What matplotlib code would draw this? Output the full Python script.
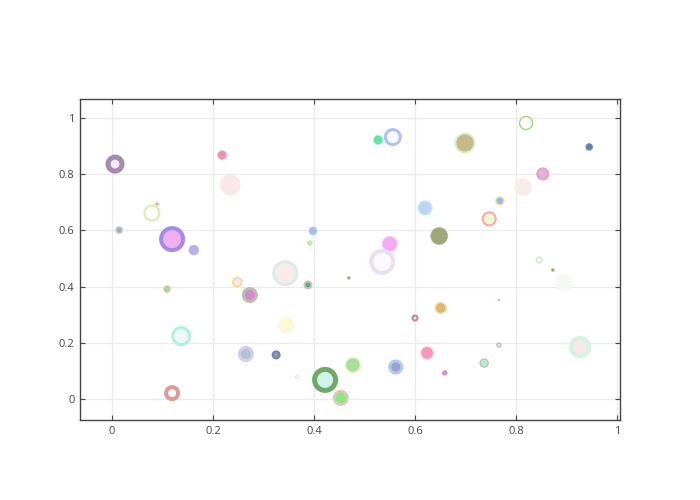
import matplotlib
matplotlib.use("Agg")
import matplotlib.pyplot as plt

plt.rcParams['font.family'] = ['Open Sans', 'DejaVu Sans']

x = [0.006, 0.218, 0.234, 0.089, 0.079, 0.014, 0.119, 0.162, 0.109, 0.137,
     0.119, 0.248, 0.273, 0.265, 0.325, 0.343, 0.388, 0.345, 0.366, 0.422,
     0.453, 0.477, 0.398, 0.392, 0.469, 0.527, 0.556, 0.550, 0.535, 0.620,
     0.648, 0.699, 0.820, 0.945, 0.853, 0.814, 0.768, 0.747, 0.846, 0.873,
     0.895, 0.766, 0.766, 0.927, 0.651, 0.600, 0.624, 0.659, 0.737, 0.562]
y = [0.836, 0.868, 0.762, 0.694, 0.662, 0.601, 0.569, 0.530, 0.391, 0.224,
     0.021, 0.416, 0.370, 0.160, 0.157, 0.448, 0.406, 0.263, 0.078, 0.068,
     0.004, 0.121, 0.598, 0.555, 0.431, 0.922, 0.932, 0.552, 0.488, 0.680,
     0.580, 0.911, 0.982, 0.897, 0.801, 0.754, 0.705, 0.641, 0.495, 0.459,
     0.413, 0.352, 0.192, 0.185, 0.324, 0.288, 0.164, 0.093, 0.128, 0.114]
# marker diameter (px) and outline width (px)
size = [14, 9, 20, 4, 15, 7, 22, 10, 7, 17,
        12, 9, 13, 13, 7, 23, 7, 15, 3, 21,
        13, 15, 8, 5, 3, 9, 15, 15, 22, 13,
        17, 19, 13, 6, 11, 17, 8, 13, 6, 3,
        18, 2, 4, 18, 11, 5, 13, 4, 8, 12]
line_w = [5, 1, 0.5, 2, 2, 1.5, 4, 0.5, 0.5, 3,
          4, 1.5, 3, 3, 2, 3, 2, 0.5, 1, 5,
          3, 1.5, 0.5, 0.5, 0.5, 0.5, 3, 1, 4, 2,
          0.5, 2, 1.5, 1.5, 2, 0.5, 1.5, 2, 1, 0.5,
          0.5, 0.5, 1.5, 4, 1.5, 2, 1, 1.5, 1.5, 3]
fill = ['#eeeaee', '#f08fae', '#fae8e8', '#a0a0a8', '#fdfdfb', '#c8a0a0', '#f0b0f0', '#b8b0ec', '#b8d0a0', '#eef8f4',
        '#ffffff', '#f0e8f0', '#d888d0', '#a8c8d0', '#a89870', '#f8ece8', '#50b080', '#fff8d8', '#ffffff', '#d0f4ec',
        '#88e880', '#a8e098', '#a0c0f0', '#b0f0a0', '#b0a090', '#60e8a0', '#faf8fc', '#f8a8f8', '#fafafc', '#c0d0f8',
        '#a0a878', '#c8b888', '#fcfcfc', '#508898', '#e0b0e8', '#f8ece8', '#b0b0e8', '#f0f8d0', '#ffffff', '#90b070',
        '#f6f8f6', '#f0a0b0', '#f0f0f0', '#f8e8ec', '#e0b868', '#f0e8ea', '#f898c0', '#c0a0c0', '#a0f0f0', '#a0a0c8']
edge = ['#a58bb0', '#f8c0d0', '#fae8e8', '#f8e0d0', '#d8edb0', '#b8e8e0', '#a08ce8', '#c0b8f0', '#c8d8b8', '#b0f0e0',
        '#e09898', '#f8d888', '#b8c0b0', '#dcc8e8', '#6088d0', '#d8ecec', '#d8c0b8', '#fff0d8', '#e0e0e0', '#70a868',
        '#e0c8b0', '#f0f0d0', '#b0c8f0', '#c0f0b0', '#c0b0a0', '#80f0b0', '#b0c0f8', '#f8d0f0', '#e8e0f0', '#b8e8f0',
        '#a8b090', '#d0f0d0', '#a8d888', '#7088c0', '#f0a0b0', '#f8ece8', '#d8f0a8', '#f8a8a8', '#c8e0c0', '#a0c090',
        '#f6f8f6', '#f0b0c0', '#c0c0c0', '#d0f4e0', '#f0e0b8', '#c08890', '#f8f0c8', '#e090d8', '#d0c0a0', '#b0c8f8']

x_ticks = [0, 0.2, 0.4, 0.6, 0.8, 1]
y_ticks = [0, 0.2, 0.4, 0.6, 0.8, 1]

fig = plt.figure(figsize=(7, 5), dpi=100)
ax = fig.add_axes([80/700, 80/500, 540/700, 321/500])
px2pt = 72 / 100
s = [(d * px2pt) ** 2 for d in size]
lw = [w * px2pt for w in line_w]
ax.scatter(x, y, s=s, c=fill, edgecolors=edge, linewidths=lw, zorder=3)

ax.set_xlim(-0.0634, 1.006)
ax.set_ylim(-0.0747, 1.0676)
ax.set_xticks(x_ticks)
ax.set_yticks(y_ticks)
ax.set_xticklabels([('%g' % v) for v in x_ticks])
ax.set_yticklabels([('%g' % v) for v in y_ticks])
ax.grid(True, color='#ebebeb', linewidth=1)
ax.set_axisbelow(True)
for sp in ax.spines.values():
    sp.set_color('#444444')
    sp.set_linewidth(1)
ax.tick_params(axis='both', which='both', direction='in', length=3.6, width=0.8,
               color='#444444', labelcolor='#444444', labelsize=8, pad=4,
               top=True, right=True, labeltop=False, labelright=False)
fig.savefig('out.png', dpi=100)
